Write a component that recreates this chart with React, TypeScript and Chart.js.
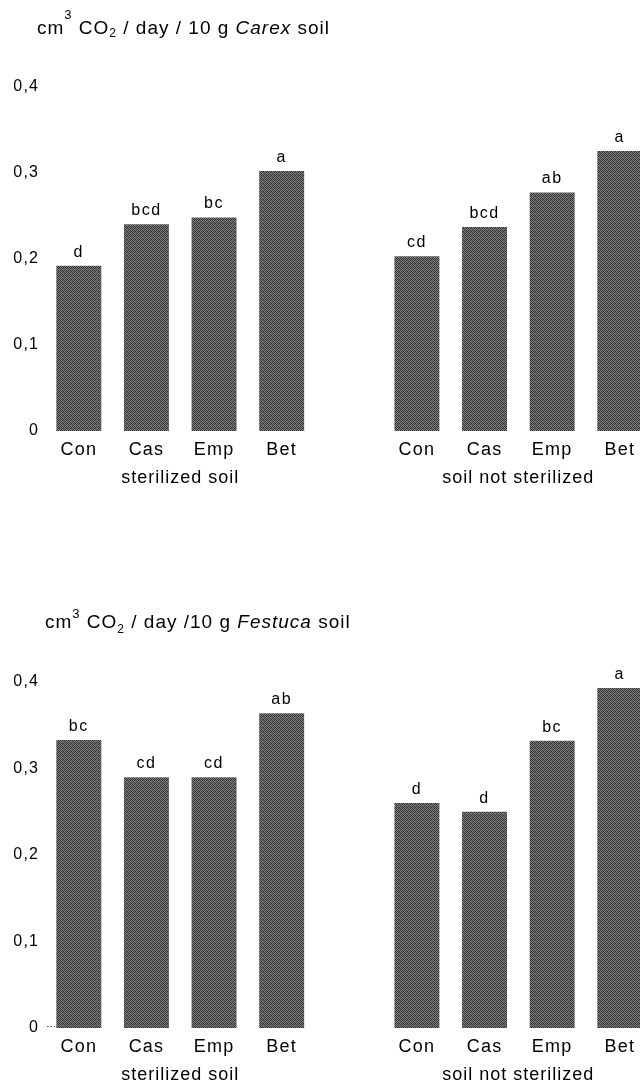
import React, { useEffect, useRef } from 'react';
import { Chart, registerables } from 'chart.js';

Chart.register(...registerables);

// ---------- data ----------
const groupCategories = ['Con', 'Cas', 'Emp', 'Bet'];
const groupNames = ['sterilized soil', 'soil not sterilized'];
const yTickValues = [0, 0.1, 0.2, 0.3, 0.4];
const yTickLabels = ['0', '0,1', '0,2', '0,3', '0,4'];

const carexSterilized = [0.192, 0.24, 0.248, 0.302];
const carexNotSterilized = [0.203, 0.237, 0.277, 0.325];
const carexSterilizedLetters = ['d', 'bcd', 'bc', 'a'];
const carexNotSterilizedLetters = ['cd', 'bcd', 'ab', 'a'];

const festucaSterilized = [0.333, 0.29, 0.29, 0.364];
const festucaNotSterilized = [0.26, 0.25, 0.332, 0.393];
const festucaSterilizedLetters = ['bc', 'cd', 'cd', 'ab'];
const festucaNotSterilizedLetters = ['d', 'd', 'bc', 'a'];

type Seg = [string, 'n' | 'i' | 'sup' | 'sub'];
const carexTitle: Seg[] = [
  ['cm', 'n'], ['3', 'sup'], [' CO', 'n'], ['2', 'sub'],
  [' / day / 10 g ', 'n'], ['Carex', 'i'], [' soil', 'n'],
];
const festucaTitle: Seg[] = [
  ['cm', 'n'], ['3', 'sup'], [' CO', 'n'], ['2', 'sub'],
  [' / day /10 g ', 'n'], ['Festuca', 'i'], [' soil', 'n'],
];

const FONT = '"Liberation Sans", Arial, Helvetica, sans-serif';

// halftone-like grey tile for the bars
const tileGreys = [
  [62, 132, 44, 112],
  [122, 52, 142, 72],
  [48, 118, 58, 138],
  [128, 68, 108, 38],
];
function makePattern(ctx: CanvasRenderingContext2D) {
  const c = document.createElement('canvas');
  c.width = 4;
  c.height = 4;
  const t = c.getContext('2d')!;
  tileGreys.forEach((row, y) =>
    row.forEach((g, x) => {
      t.fillStyle = `rgb(${g},${g},${g})`;
      t.fillRect(x, y, 1, 1);
    })
  );
  return ctx.createPattern(c, 'repeat') || '#5a5a5a';
}

const annotatePlugin = {
  id: 'annot',
  beforeDraw(chart: any) {
    chart.ctx.letterSpacing = '1.2px';
  },
  afterDatasetsDraw(chart: any, _args: any, opts: any) {
    const ctx: CanvasRenderingContext2D = chart.ctx;
    const meta = chart.getDatasetMeta(0);
    ctx.save();
    ctx.fillStyle = '#000';
    (ctx as any).letterSpacing = '1.5px';
    ctx.font = `16px ${FONT}`;
    ctx.textAlign = 'center';
    ctx.textBaseline = 'alphabetic';
    meta.data.forEach((bar: any, i: number) => {
      const t = opts.letters[i];
      if (!t) return;
      ctx.fillText(t, bar.x, bar.y - opts.letterGap);
    });

    const xs = chart.scales.x;
    (ctx as any).letterSpacing = '1px';
    ctx.font = `18px ${FONT}`;
    ctx.textBaseline = 'middle';
    opts.groupNames.forEach((name: string, g: number) => {
      const cx = (xs.getPixelForValue(g * 5 + 1) + xs.getPixelForValue(g * 5 + 2)) / 2;
      ctx.fillText(name, cx, chart.chartArea.bottom + opts.groupGap);
    });

    // small dotted zero tick (bottom panel)
    if (opts.zeroTick) {
      const y0 = chart.scales.y.getPixelForValue(0);
      ctx.strokeStyle = '#555';
      ctx.lineWidth = 1;
      ctx.setLineDash([1.5, 2]);
      ctx.beginPath();
      ctx.moveTo(chart.chartArea.left + 2, y0 - 1.5);
      ctx.lineTo(chart.chartArea.left + 10, y0 - 1.5);
      ctx.stroke();
      ctx.setLineDash([]);
    }

    // title with super/subscript and italics
    (ctx as any).letterSpacing = '1px';
    ctx.textAlign = 'left';
    ctx.textBaseline = 'alphabetic';
    let x = opts.titleX;
    const y = opts.titleY;
    (opts.title as Seg[]).forEach(([text, kind]) => {
      let dy = 0;
      if (kind === 'n') ctx.font = `19px ${FONT}`;
      else if (kind === 'i') ctx.font = `italic 19px ${FONT}`;
      else if (kind === 'sup') { ctx.font = `13px ${FONT}`; dy = -opts.supRaise; }
      else { ctx.font = `12px ${FONT}`; dy = opts.subDrop; }
      ctx.fillText(text, x, y + dy);
      x += ctx.measureText(text).width;
    });
    ctx.restore();
  },
};

interface PanelProps {
  top: number;
  height: number;
  areaTop: number;
  xAxisHeight: number;
  left: number[];
  right: number[];
  leftLetters: string[];
  rightLetters: string[];
  title: Seg[];
  titleX: number;
  titleY: number;
  supRaise: number;
  subDrop: number;
  zeroTick: boolean;
}

function Panel(p: PanelProps) {
  const ref = useRef<HTMLCanvasElement>(null);
  useEffect(() => {
    const canvas = ref.current!;
    const ctx = canvas.getContext('2d')!;
    const pattern = makePattern(ctx);
    const labels = [...groupCategories, '', ...groupCategories];
    const data = [...p.left, null, ...p.right];
    const letters = [...p.leftLetters, '', ...p.rightLetters];
    const chart = new Chart(canvas, {
      type: 'bar',
      data: {
        labels,
        datasets: [
          {
            data,
            backgroundColor: pattern as any,
            borderWidth: 0,
            barPercentage: 0.665,
            categoryPercentage: 1,
          },
        ],
      },
      options: {
        animation: false,
        responsive: false,
        devicePixelRatio: 1,
        layout: { padding: { top: p.areaTop, left: 0, right: 6.4, bottom: 0 } },
        plugins: {
          legend: { display: false },
          title: { display: false },
          tooltip: { enabled: false },
          annot: {
            letters,
            letterGap: 9,
            groupNames,
            groupGap: 47,
            title: p.title,
            titleX: p.titleX,
            titleY: p.titleY,
            supRaise: p.supRaise,
            subDrop: p.subDrop,
            zeroTick: p.zeroTick,
          },
        } as any,
        scales: {
          x: {
            type: 'category',
            offset: true,
            grid: { display: false, drawTicks: false },
            border: { display: false },
            ticks: {
              color: '#000',
              padding: 8,
              font: { family: FONT, size: 18 },
              maxRotation: 0,
              autoSkip: false,
            },
            afterFit: (s: any) => { s.height = p.xAxisHeight; },
          },
          y: {
            type: 'linear',
            min: 0,
            max: 0.4,
            grid: { display: false, drawTicks: false },
            border: { display: false },
            afterBuildTicks: (s: any) => {
              s.ticks = yTickValues.map((v) => ({ value: v }));
            },
            ticks: {
              color: '#000',
              padding: 5.8,
              font: { family: FONT, size: 16 },
              callback: (v: any) => {
                const i = yTickValues.findIndex((t) => Math.abs(t - Number(v)) < 1e-9);
                return i >= 0 ? yTickLabels[i] : '';
              },
            },
            afterFit: (s: any) => { s.width = 45; },
          },
        },
      },
      plugins: [annotatePlugin as any],
    });
    return () => chart.destroy();
  }, []);
  return (
    <canvas
      ref={ref}
      width={660}
      height={p.height}
      style={{ position: 'absolute', left: 0, top: p.top, width: 660, height: p.height }}
    />
  );
}

export default function App() {
  return (
    <div
      style={{
        position: 'absolute',
        left: 0,
        top: 0,
        width: 640,
        height: 1086,
        overflow: 'hidden',
        background: '#fff',
      }}
    >
      <Panel
        top={0}
        height={500}
        areaTop={86.5}
        xAxisHeight={69}
        left={carexSterilized}
        right={carexNotSterilized}
        leftLetters={carexSterilizedLetters}
        rightLetters={carexNotSterilizedLetters}
        title={carexTitle}
        titleX={37}
        titleY={34}
        supRaise={15}
        subDrop={3}
        zeroTick={false}
      />
      <Panel
        top={540}
        height={546}
        areaTop={142}
        xAxisHeight={58}
        left={festucaSterilized}
        right={festucaNotSterilized}
        leftLetters={festucaSterilizedLetters}
        rightLetters={festucaNotSterilizedLetters}
        title={festucaTitle}
        titleX={45}
        titleY={88}
        supRaise={10}
        subDrop={5}
        zeroTick={true}
      />
    </div>
  );
}
